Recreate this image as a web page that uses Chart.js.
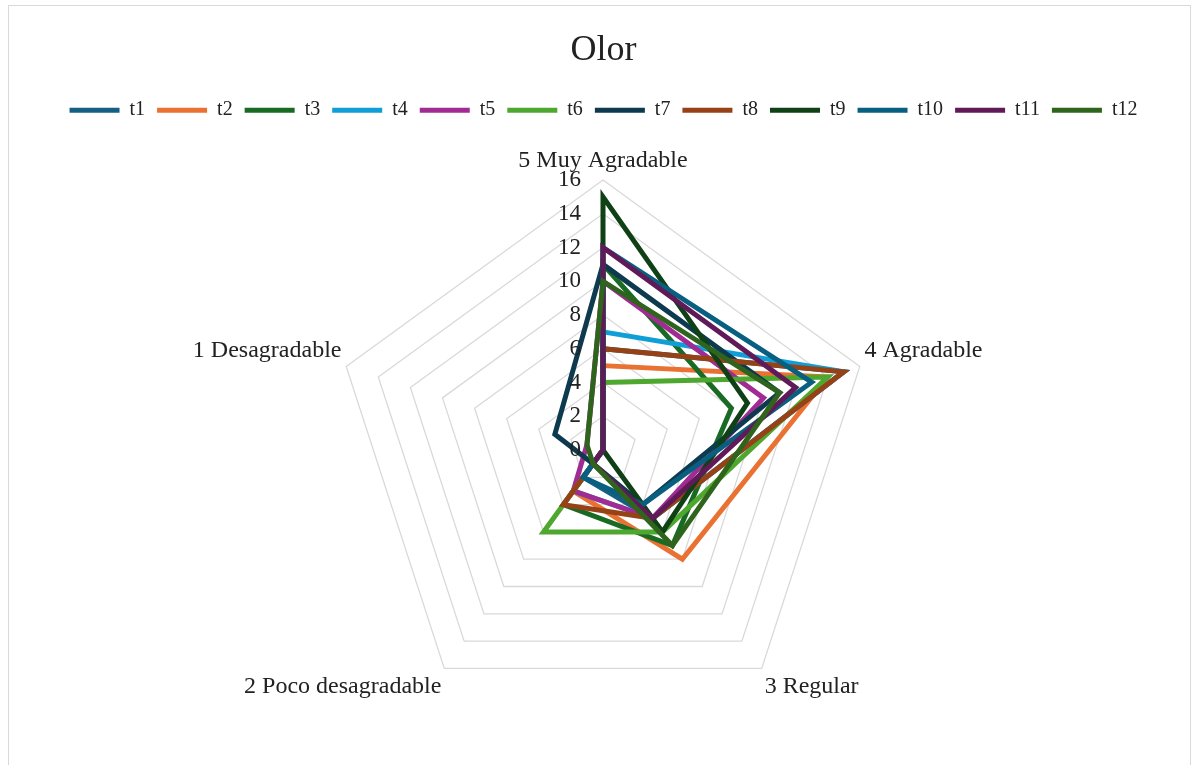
<!DOCTYPE html>
<html>
<head>
<meta charset="utf-8">
<script src="https://cdn.jsdelivr.net/npm/chart.js@4.4.1/dist/chart.umd.min.js"></script>
<style>
  html, body { margin: 0; padding: 0; background: #fff; }
  #wrap { position: relative; width: 1197px; height: 765px; overflow: hidden; }
  #frame { position: absolute; left: 8px; top: 5px; width: 1181px; height: 800px; border: 1px solid #d9d9d9; }
  canvas { position: absolute; left: 0; top: 0; }
</style>
</head>
<body>
<div id="wrap">
  <div id="frame"></div>
  <canvas id="radarChart" width="1197" height="765"></canvas>
</div>
<script>
const categories = ["5 Muy Agradable", "4 Agradable", "3 Regular", "2 Poco desagradable", "1 Desagradable"];
const seriesNames = ["t1", "t2", "t3", "t4", "t5", "t6", "t7", "t8", "t9", "t10", "t11", "t12"];

const t1 = [6, 15, 5, 2, 0];
const t2 = [5, 14, 8, 3, 0];
const t3 = [11, 8, 7, 4, 0];
const t4 = [7, 15, 5, 3, 0];
const t5 = [10, 10, 5, 3, 1];
const t6 = [4, 14, 6, 6, 0];
const t7 = [11, 11, 4, 1, 3];
const t8 = [6, 15, 5, 4, 0];
const t9 = [15, 9, 6, 0, 0];
const t10 = [12, 13, 4, 2, 0];
const t11 = [12, 12, 5, 1, 0];
const t12 = [10, 11, 7, 1, 1];

const tickValues = [0, 2, 4, 6, 8, 10, 12, 14, 16];

const seriesValues = [t1, t2, t3, t4, t5, t6, t7, t8, t9, t10, t11, t12];
const colors = [
  "#156082", "#E97132", "#196B24", "#0F9ED5", "#A02B93", "#4EA72E",
  "#0D3A4E", "#974116", "#0F4016", "#095F80", "#601A58", "#2F641C",
];

const serif = "'Liberation Serif', 'Times New Roman', serif";

// tick labels sit left of the vertical axis, like Excel does it
const tickLabelsPlugin = {
  id: "tickLabels",
  afterDatasetsDraw(chart) {
    const scale = chart.scales.r;
    const ctx = chart.ctx;
    ctx.save();
    ctx.font = "23px " + serif;
    ctx.fillStyle = "#222";
    ctx.textAlign = "right";
    ctx.textBaseline = "middle";
    tickValues.forEach(function (v) {
      let d = scale.getDistanceFromCenterForValue(v);
      ctx.fillText(String(v), scale.xCenter - 22, scale.yCenter - d);
    });
    ctx.restore();
  },
};

function createChart(ctx) {
  return new Chart(ctx, {
    type: "radar",
    data: {
      labels: categories,
      datasets: seriesValues.map(function (vals, i) {
        return {
          label: seriesNames[i],
          data: vals,
          borderColor: colors[i],
          backgroundColor: colors[i],
          borderWidth: 5,
          borderCapStyle: "round",
          borderJoinStyle: "miter",
          fill: false,
          pointRadius: 0,
          pointHoverRadius: 0,
          pointStyle: "line",
          order: 12 - i,
        };
      }),
    },
    options: {
      responsive: false,
      animation: false,
      layout: {
        padding: { left: 10, right: 0, top: 0, bottom: 27 },
      },
      scales: {
        r: {
          min: 0,
          max: 16,
          beginAtZero: true,
          ticks: {
            display: false,
            stepSize: 2,
          },
          grid: {
            color: "#d9d9d9",
            lineWidth: 1.3,
          },
          angleLines: {
            display: false,
          },
          pointLabels: {
            color: "#222",
            padding: 5,
            font: { family: serif, size: 24 },
          },
        },
      },
      plugins: {
        title: {
          display: true,
          text: "Olor",
          color: "#222",
          font: { family: serif, size: 36, weight: "normal" },
          padding: { top: 29, bottom: 16 },
        },
        legend: {
          position: "top",
          labels: {
            usePointStyle: true,
            pointStyle: "line",
            pointStyleWidth: 50,
            color: "#222",
            padding: 12,
            font: { family: serif, size: 20 },
            sort: function (a, b) {
              return a.datasetIndex - b.datasetIndex;
            },
          },
        },
        tooltip: { enabled: false },
      },
    },
    plugins: [tickLabelsPlugin],
  });
}

createChart(document.getElementById("radarChart"));
</script>
</body>
</html>
